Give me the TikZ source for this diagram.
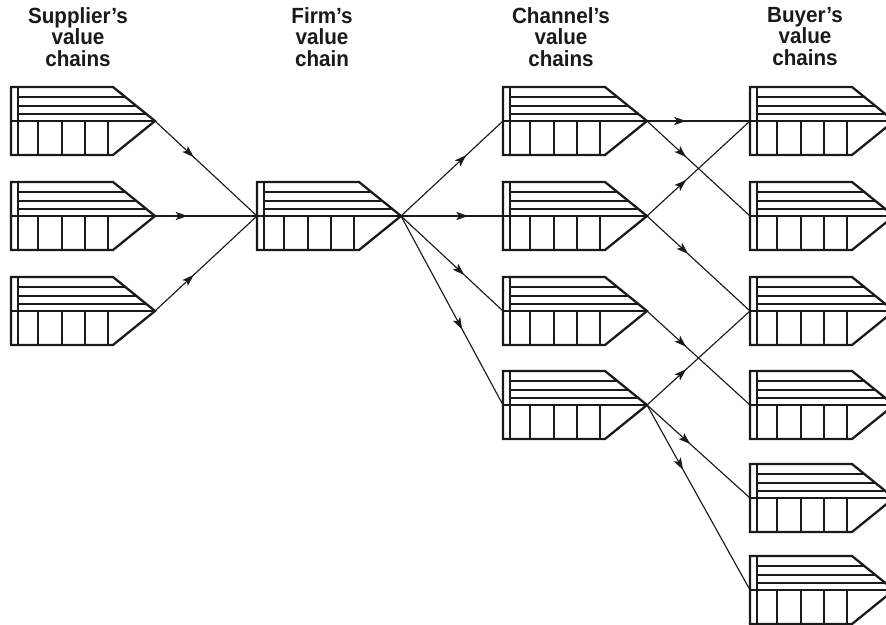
\documentclass[tikz,border=0pt]{standalone}
\usepackage{fontspec}
\setsansfont[FakeStretch=0.94]{Liberation Sans}
\usepackage{tikz}
\usetikzlibrary{arrows.meta, calc, decorations.markings}
\definecolor{vcink}{HTML}{1A1A1A}
\tikzset{
  vcthick/.style = {draw=vcink, line width=1.3pt, line join=miter},
  vcthin/.style  = {draw=vcink, line width=0.6pt},
  flowto/.style  = {draw=vcink, line width=0.65pt, postaction={decorate},
                    decoration={markings, mark=at position #1 with
                      {\arrow{Stealth[length=6.8pt, width=4.6pt, inset=1.6pt]}}}},
  flowto/.default = 0.4,
  colhead/.style = {font=\sffamily\bfseries\fontsize{12.5}{12.2}\selectfont,
                    align=center, anchor=north, inner sep=0pt, text=vcink},
}
\newcommand{\valchain}[3]{%
  \begin{scope}[shift={(#2,#3)}]
    \draw[vcthin] (7,10) -- (114.4,10);
    \draw[vcthin] (7,19) -- (125.5,19);
    \draw[vcthin] (7,27) -- (135.4,27);
    \draw[vcthin] (27,34) -- (27,68);
    \draw[vcthin] (51,34) -- (51,68);
    \draw[vcthin] (74,34) -- (74,68);
    \draw[vcthin] (97,34) -- (97,68);
    \draw[vcthick] (0,34) -- (144,34);
    \draw[vcthick] (7,0) -- (7,68);
    \draw[vcthick] (0,0) -- (102,0) -- (144,34) -- (102,68) -- (0,68) -- cycle;
    \coordinate (#1in) at (0,34);
    \coordinate (#1out) at (144,34);
  \end{scope}}

\begin{document}
\begin{tikzpicture}[x=0.02cm, y=-0.02cm]
  \useasboundingbox (0,0) rectangle (886,625);
  \node[colhead] (hsup) at (78,7) {Supplier's\\value\\chains};
  \node[colhead] (hfirm) at (322,7) {Firm's\\value\\chain};
  \node[colhead] (hchan) at (561,7) {Channel's\\value\\chains};
  \node[colhead] (hbuy) at (805,7) {Buyer's\\value\\chains};
  \valchain{S1}{11}{87}
  \valchain{S2}{11}{182}
  \valchain{S3}{11}{277}
  \valchain{F}{257}{182}
  \valchain{C1}{503}{87}
  \valchain{C2}{503}{182}
  \valchain{C3}{503}{277}
  \valchain{C4}{503}{371}
  \valchain{B1}{750}{87}
  \valchain{B2}{750}{182}
  \valchain{B3}{750}{277}
  \valchain{B4}{750}{371}
  \valchain{B5}{750}{464}
  \valchain{B6}{750}{556}
  \draw[flowto=0.38] (S1out) -- (Fin);
  \draw[flowto=0.32] (S2out) -- (Fin);
  \draw[flowto=0.38] (S3out) -- (Fin);
  \draw[flowto=0.64] (Fout) -- (C1in);
  \draw[flowto=0.66] (Fout) -- (C2in);
  \draw[flowto=0.62] (Fout) -- (C3in);
  \draw[flowto=0.6] (Fout) -- (C4in);
  \draw[flowto=0.38] (C1out) -- (B1in);
  \draw[flowto=0.38] (C1out) -- (B2in);
  \draw[flowto=0.38] (C2out) -- (B1in);
  \draw[flowto=0.4] (C2out) -- (B3in);
  \draw[flowto=0.38] (C3out) -- (B4in);
  \draw[flowto=0.38] (C4out) -- (B3in);
  \draw[flowto=0.42] (C4out) -- (B5in);
  \draw[flowto=0.35] (C4out) -- (B6in);
\end{tikzpicture}
\end{document}
